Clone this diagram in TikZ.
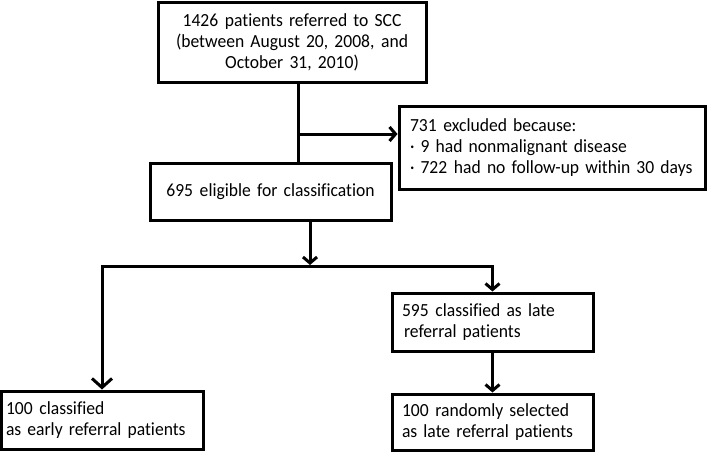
\documentclass[tikz,border=0pt]{standalone}
\usepackage{fontspec}
\setmainfont{Carlito}[WordSpace={0.55,0,0},Ligatures=NoCommon,FakeStretch=0.95]
\usetikzlibrary{arrows.meta}
\newcommand{\gp}{\hspace{0.36em}}
\begin{document}
\begin{tikzpicture}[x=1pt,y=-1pt,
  box/.style={draw, line width=3pt, inner xsep=10pt, inner ysep=0pt, font=\fontsize{18.5}{21}\selectfont},
  lbox/.style={box, align=left},
  cbox/.style={box, align=center},
  conn/.style={line width=3pt},
  arr/.style={conn, -{Straight Barb[length=6pt,width=14pt]}},
]
\useasboundingbox (0,0) rectangle (708,452);

\node[cbox, text width=248pt, minimum height=79pt] (top) at (292,42.5)
  {1426\gp patients referred to SCC\\ (between August 20, 2008,\gp and\\ October 31, 2010)};
\node[lbox, inner xsep=11pt, text width=284pt, minimum height=83pt] (excl) at (552,147.5)
  {731\gp excluded because:\\ · 9 had nonmalignant disease\\ · 722\gp had no follow-up within 30 days};
\node[cbox, text width=221pt, minimum height=57pt] (elig) at (270.5,191.5)
  {695\gp eligible for classification};
\node[lbox, text width=181pt, minimum height=58pt] (late) at (492.5,322)
  {595\gp classified as late\\ \hspace{2pt}referral patients};
\node[lbox, text width=181pt, minimum height=56pt] (rand) at (492.5,422)
  {100\gp randomly selected\\ as late referral patients};
\node[lbox, inner xsep=5pt, text width=192pt, minimum height=58pt] (early) at (102,420)
  {100\gp classified\\ as early referral patients};

\coordinate (j) at (298,134);
\coordinate (s) at (310,265);
\coordinate (sl) at (102,266);
\coordinate (sr) at (492.5,266);

\draw[conn] (top.south -| j) -- (elig.north -| j);
\draw[arr] (j) -- (excl.west |- j);
\draw[arr] (elig.south -| s) -- (s);
\draw[conn, {Straight Barb[length=9pt,width=20pt]}-{Straight Barb[length=6pt,width=14pt]}]
  (early.north) -- (sl) -- (sr) -- (late.north);
\draw[arr] (late.south) -- (rand.north);
\end{tikzpicture}
\end{document}
